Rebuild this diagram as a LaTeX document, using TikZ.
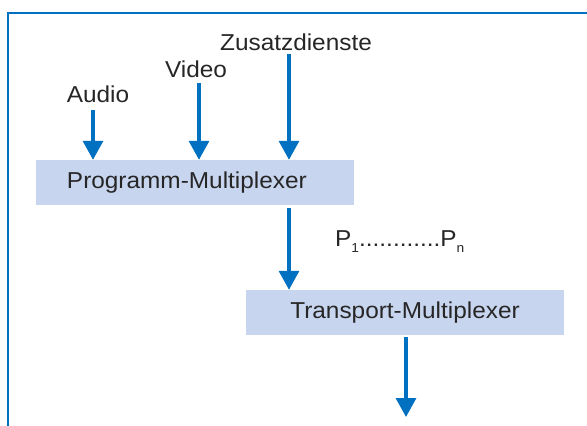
\documentclass[tikz,border=0pt]{standalone}
\usepackage{fontspec}
\setmainfont{Liberation Sans}[FakeStretch=1.06]
\usetikzlibrary{arrows.meta}
\definecolor{arrblue}{HTML}{0070C0}
\definecolor{boxfill}{HTML}{C8D5EE}
\newcommand{\subtxt}[1]{\raisebox{-6pt}{\fontsize{13}{13}\selectfont #1}}
\begin{document}
\begin{tikzpicture}[x=1pt,y=-1pt,
  lbl/.style={font=\fontsize{23}{27}\selectfont, inner sep=0pt, anchor=base, text=black!85},
  mux/.style={fill=boxfill, draw=none, minimum width=318pt, minimum height=45pt, inner sep=0pt,
              font=\fontsize{23}{27}\selectfont, text=black!85},
  arr/.style={draw=arrblue, line width=3.2pt, -{Triangle[width=20pt,length=19pt]}},
  framel/.style={draw=arrblue, line width=1.5pt}]
\useasboundingbox (0,0) rectangle (587,426);
% frame
\coordinate (fbl) at (8,426);
\coordinate (ftl) at (8,13);
\coordinate (ftr) at (587,13);
\draw[framel] (fbl) -- (ftl) -- (ftr);
% labels
\node[lbl] (audio) at (98,102) {Audio};
\node[lbl] (video) at (196,77) {Video};
\node[lbl] (zusatz) at (296,50) {Zusatzdienste};
% boxes
\node[mux, text width=288pt, inner xsep=15pt, align=left] (pm) at (195,182.5) {\hspace*{16pt}Programm-Multiplexer};
\node[mux] (tm) at (405,312.5) {Transport-Multiplexer};
\node[lbl, anchor=base west] (plab) at (335,246)
  {P\subtxt{1}............P\subtxt{n}};
% arrows
\coordinate (a1) at (93,110);
\coordinate (a2) at (199,83);
\coordinate (a3) at (289,54);
\draw[arr] (a1) -- (a1 |- pm.north);
\draw[arr] (a2) -- (a2 |- pm.north);
\draw[arr] (a3) -- (a3 |- pm.north);
\draw[arr, shorten <=3pt] (a3 |- pm.south) -- (a3 |- tm.north);
\coordinate (out) at (406,417);
\draw[arr, shorten <=2pt] (out |- tm.south) -- (out);
\end{tikzpicture}
\end{document}
